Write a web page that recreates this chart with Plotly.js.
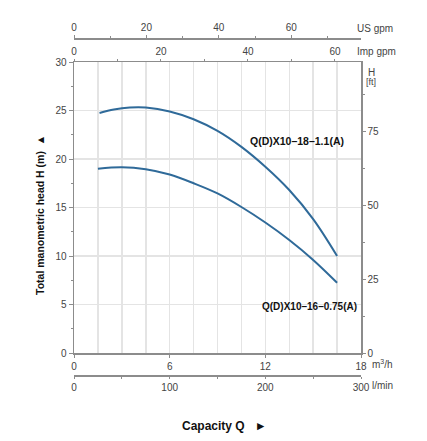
<!DOCTYPE html>
<html>
<head>
<meta charset="utf-8">
<script src="https://cdn.plot.ly/plotly-3.0.1.min.js"></script>
<style>
html,body{margin:0;padding:0;background:#fff;}
#chart{width:427px;height:441px;}
</style>
</head>
<body>
<div id="chart"></div>
<script>
// Capacity in m3/h, head in m
var q18 = [1.6, 2.5, 3.5, 4.5, 6, 7.5, 9, 10.5, 12, 13.5, 15, 16.5];
var h18 = [24.75, 25.1, 25.3, 25.3, 24.9, 24.1, 22.9, 21.25, 19.2, 16.8, 13.8, 10.0];
var q16 = [1.5, 3, 4.5, 6, 7.5, 9, 10.5, 12, 13.5, 15, 16.5];
var h16 = [19.0, 19.15, 18.95, 18.4, 17.5, 16.45, 15.05, 13.45, 11.65, 9.6, 7.25];
var name18 = "Q(D)X10–18–1.1(A)";
var name16 = "Q(D)X10–16–0.75(A)";

var mTicks = [0, 6, 12, 18];
var mTickText = ["0", "6", "12", "18"];
var hTicks = [0, 5, 10, 15, 20, 25, 30];
var ftTicks = [0, 25, 50, 75];
var impTicks = [0, 20, 40, 60];
var usTicks = [0, 20, 40, 60];
var lminTicks = [0, 100, 200, 300];

var QMAX = 18, HMAX = 30;
var ftMax = HMAX / 0.3048;
var impMax = QMAX * 1000 / 60 / 4.54609;
var usMax = QMAX * 1000 / 60 / 3.785411784;
var lminMax = QMAX * 1000 / 60;

var lineCol = "#2f6a99";
var axCol = "#8c8c8c";
var gridCol = "#e4e4e4";
var FAM = "Liberation Sans, Arial, sans-serif";
var tickFont = {family: FAM, size: 10, color: "#444"};

var traces = [
  {x: q18, y: h18, mode: "lines", line: {color: lineCol, width: 2, shape: "spline"}, hoverinfo: "skip", showlegend: false},
  {x: q16, y: h16, mode: "lines", line: {color: lineCol, width: 2, shape: "spline"}, hoverinfo: "skip", showlegend: false},
  {x: [0], y: [0], xaxis: "x2", yaxis: "y", mode: "markers", marker: {opacity: 0}, hoverinfo: "skip", showlegend: false},
  {x: [0], y: [0], xaxis: "x3", yaxis: "y", mode: "markers", marker: {opacity: 0}, hoverinfo: "skip", showlegend: false},
  {x: [0], y: [0], xaxis: "x4", yaxis: "y", mode: "markers", marker: {opacity: 0}, hoverinfo: "skip", showlegend: false},
  {x: [0], y: [0], xaxis: "x", yaxis: "y2", mode: "markers", marker: {opacity: 0}, hoverinfo: "skip", showlegend: false}
];

var W = 427, H = 441, ml = 74, mr = 66, mt = 30, mb = 50;
var pw = W - ml - mr, ph = H - mt - mb;
function px(x){ return (x - ml) / pw; }
function py(y){ return (H - mb - y) / ph; }

var yDom = [py(353), py(62)];

var layout = {
  width: W, height: H,
  margin: {l: ml, r: mr, t: mt, b: mb},
  paper_bgcolor: "#fff", plot_bgcolor: "#fff",
  showlegend: false,
  font: tickFont,
  xaxis: {
    range: [0, QMAX], tickvals: mTicks, ticktext: mTickText,
    showgrid: true, gridcolor: gridCol, gridwidth: 1.5,
    showline: true, linecolor: axCol, linewidth: 1.5,
    ticks: "outside", ticklen: 3, tickcolor: axCol,
    minor: {dtick: 1.5, showgrid: true, gridcolor: gridCol, gridwidth: 1.5, ticks: ""},
    zeroline: false, tickfont: tickFont, fixedrange: true
  },
  xaxis4: {
    overlaying: "x", anchor: "free", position: py(375), side: "bottom",
    range: [0, lminMax], tickvals: lminTicks,
    showgrid: false, showline: true, linecolor: axCol, linewidth: 1.5,
    ticks: "outside", ticklen: 2, tickcolor: axCol,
    minor: {dtick: 50, ticks: "outside", ticklen: 2, tickcolor: axCol},
    zeroline: false, tickfont: tickFont
  },
  xaxis2: {
    overlaying: "x", anchor: "y", side: "top",
    range: [0, impMax], tickvals: impTicks,
    showgrid: false, showline: true, linecolor: axCol, linewidth: 1.5,
    ticks: "outside", ticklen: 2, tickcolor: axCol,
    minor: {dtick: 10, ticks: "outside", ticklen: 2, tickcolor: axCol},
    zeroline: false, tickfont: tickFont
  },
  xaxis3: {
    overlaying: "x", anchor: "free", position: py(38), side: "top",
    range: [0, usMax], tickvals: usTicks,
    showgrid: false, showline: true, linecolor: axCol, linewidth: 1.5,
    ticks: "outside", ticklen: 3, tickcolor: axCol,
    minor: {dtick: 10, ticks: "outside", ticklen: 2, tickcolor: axCol},
    zeroline: false, tickfont: tickFont
  },
  yaxis: {
    domain: yDom, range: [0, HMAX], tickvals: hTicks,
    showgrid: true, gridcolor: gridCol, gridwidth: 1.5,
    showline: true, linecolor: axCol, linewidth: 1.5,
    ticks: "outside", ticklen: 4, tickcolor: axCol,
    minor: {dtick: 2.5, ticks: "outside", ticklen: 2, tickcolor: axCol, showgrid: false},
    zeroline: false, tickfont: tickFont
  },
  yaxis2: {
    overlaying: "y", side: "right", anchor: "x",
    range: [0, ftMax], tickvals: ftTicks,
    showgrid: false, showline: true, linecolor: axCol, linewidth: 1.5,
    ticks: "outside", ticklen: 3, tickcolor: axCol,
    minor: {dtick: 12.5, ticks: "outside", ticklen: 2, tickcolor: axCol},
    zeroline: false, tickfont: tickFont
  },
  annotations: [
    {xref: "paper", yref: "paper", x: px(355), y: py(28), xanchor: "left", yanchor: "middle", text: "US gpm", showarrow: false, font: tickFont},
    {xref: "paper", yref: "paper", x: px(355), y: py(52), xanchor: "left", yanchor: "middle", text: "Imp gpm", showarrow: false, font: tickFont},
    {xref: "paper", yref: "paper", x: px(371), y: py(72), xanchor: "center", yanchor: "middle", text: "H", showarrow: false, font: tickFont},
    {xref: "paper", yref: "paper", x: px(371), y: py(82), xanchor: "center", yanchor: "middle", text: "[ft]", showarrow: false, font: {family: FAM, size: 9, color: "#444"}},
    {xref: "paper", yref: "paper", x: px(370), y: py(364), xanchor: "left", yanchor: "middle", text: "m<sup>3</sup>/h", showarrow: false, font: tickFont},
    {xref: "paper", yref: "paper", x: px(370), y: py(385), xanchor: "left", yanchor: "middle", text: "l/min", showarrow: false, font: tickFont},
    {xref: "paper", yref: "paper", x: px(224), y: py(426), xanchor: "center", yanchor: "middle", text: "<b>Capacity Q   ►</b>", showarrow: false, font: {family: FAM, size: 12, color: "#111"}},
    {xref: "paper", yref: "paper", x: px(40), y: py(215), xanchor: "center", yanchor: "middle", textangle: -90, text: "<b>Total manometric head H (m)  ▲</b>", showarrow: false, font: {family: FAM, size: 10.5, color: "#111"}},
    {xref: "paper", yref: "paper", x: px(297), y: py(141), xanchor: "center", yanchor: "middle", text: "<b>" + name18 + "</b>", showarrow: false, font: {family: FAM, size: 10.5, color: "#111"}},
    {xref: "paper", yref: "paper", x: px(309), y: py(306), xanchor: "center", yanchor: "middle", text: "<b>" + name16 + "</b>", showarrow: false, font: {family: FAM, size: 10, color: "#111"}}
  ]
};

Plotly.newPlot("chart", traces, layout, {staticPlot: true, displayModeBar: false});
</script>
</body>
</html>
